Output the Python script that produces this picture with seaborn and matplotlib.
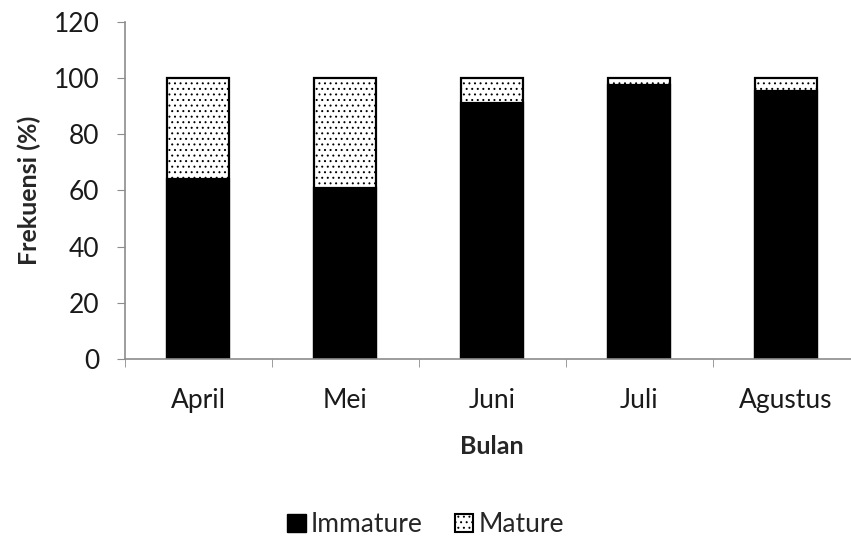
import numpy as np
import pandas as pd
import matplotlib
matplotlib.use("Agg")
import matplotlib.pyplot as plt
from matplotlib.patches import Patch
import seaborn as sns

# Data
bulan = ["April", "Mei", "Juni", "Juli", "Agustus"]
immature = [64.2, 60.8, 91.0, 97.4, 95.6]
mature = [100 - v for v in immature]

df = pd.DataFrame({"Bulan": bulan, "Immature": immature, "Mature": mature})
df["Total"] = df["Immature"] + df["Mature"]

sns.set_style("white")
plt.rcParams["font.family"] = ["Lato", "DejaVu Sans"]
plt.rcParams["hatch.linewidth"] = 0.7
plt.rcParams["hatch.color"] = "black"

fig = plt.figure(figsize=(8.51, 5.38), dpi=100)
ax = fig.add_axes([0.1463, 0.333, 0.8637, 0.626])

# total bar with dots (Mature), then Immature drawn on top
sns.barplot(data=df, x="Bulan", y="Total", color="white", edgecolor="black",
            linewidth=1.6, hatch="...", width=0.42, ax=ax, saturation=1)
sns.barplot(data=df, x="Bulan", y="Immature", color="black", edgecolor="black",
            linewidth=1.6, width=0.42, ax=ax, saturation=1)

ax.set_ylim(0, 120)
ax.set_yticks(np.arange(0, 121, 20))
ax.set_xlim(-0.5, 4.5)
ax.set_xticks(np.arange(-0.5, 5, 1), minor=True)

gray = "#8c8c8c"
for s in ["top", "right"]:
    ax.spines[s].set_visible(False)
for s in ["left", "bottom"]:
    ax.spines[s].set_color(gray)
    ax.spines[s].set_linewidth(1.2)

ax.tick_params(axis="y", which="major", direction="out", length=6, color=gray,
               labelsize=19, labelcolor="#1a1a1a", pad=12, left=True)
ax.tick_params(axis="x", which="major", length=0, labelsize=19,
               labelcolor="#1a1a1a", pad=21)
ax.tick_params(axis="x", which="minor", direction="out", length=6, color=gray,
               bottom=True)

ax.set_ylabel("Frekuensi (%)", fontsize=18, fontweight="bold", labelpad=9)
ax.set_xlabel("Bulan", fontsize=18, fontweight="bold", labelpad=16)

handles = [Patch(facecolor="black", edgecolor="black", label="Immature"),
           Patch(facecolor="white", edgecolor="black", hatch="...", linewidth=1.5,
                 label="Mature")]
fig.legend(handles=handles, loc="center", bbox_to_anchor=(0.5, 0.025), ncol=2,
           frameon=False, fontsize=19, handlelength=0.7, handleheight=0.7,
           handletextpad=0.2, columnspacing=1.2)

fig.savefig("out.png", dpi=100)
